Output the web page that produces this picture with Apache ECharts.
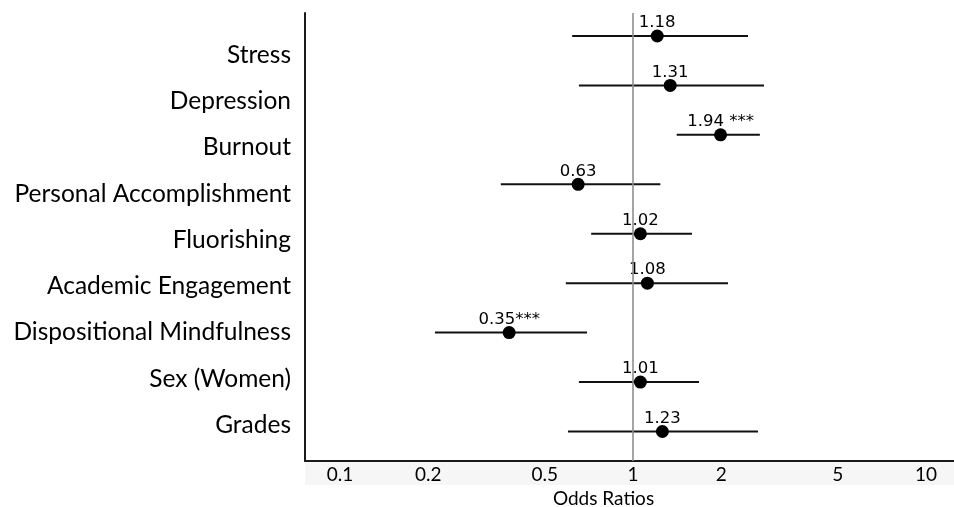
<!DOCTYPE html>
<html>
<head>
<meta charset="utf-8">
<script src="https://cdn.jsdelivr.net/npm/echarts@6/dist/echarts.min.js"></script>
<style>
html,body{margin:0;padding:0;background:#fff;}
#chart{width:954px;height:507px;}
</style>
</head>
<body>
<div id="chart"></div>
<script>
const categories = ['Stress','Depression','Burnout','Personal Accomplishment','Fluorishing','Academic Engagement','Dispositional Mindfulness','Sex (Women)','Grades'];
const oddsRatio = [1.21, 1.34, 1.99, 0.65, 1.06, 1.12, 0.378, 1.06, 1.26];
const ciLow = [0.62, 0.654, 1.41, 0.354, 0.72, 0.59, 0.211, 0.654, 0.60];
const ciHigh = [2.47, 2.80, 2.71, 1.24, 1.59, 2.11, 0.697, 1.68, 2.67];
const pointLabels = ['1.18','1.31','1.94 ***','0.63','1.02','1.08','0.35***','1.01','1.23'];
const xTicks = [0.1, 0.2, 0.5, 1, 2, 5, 10];
const refValue = 1;

const chart = echarts.init(document.getElementById('chart'), null, {renderer:'canvas'});
const barData = categories.map((c,i)=>[i, ciLow[i], ciHigh[i]]);
const pointData = categories.map((c,i)=>[oddsRatio[i], i]);
const labelFont = 'Lato';
const option = {
  animation:false,
  backgroundColor:'#ffffff',
  graphic:[
    {type:'rect', left:305, top:462, shape:{width:649, height:23}, style:{fill:'#f6f6f6'}, z:-10, silent:true}
  ],
  grid:[
    {left:305, right:0, top:13, bottom:46, containLabel:false, outerBoundsMode:'none'},
    {left:305, right:0, top:32, bottom:59, containLabel:false, outerBoundsMode:'none'}
  ],
  xAxis:[
    {type:'log', gridIndex:0, logBase:10, min:0.076, max:12.46,
     axisLine:{show:true, onZero:false, lineStyle:{color:'#1a1a1a', width:2}},
     axisTick:{show:false},
     splitLine:{show:false},
     axisLabel:{customValues:xTicks, margin:4, color:'#000', fontFamily:labelFont, fontSize:19,
       formatter:v=>String(+v.toPrecision(3))},
     name:'Odds Ratios', nameLocation:'middle', nameGap:27,
     nameTextStyle:{color:'#000', fontFamily:labelFont, fontSize:19, padding:[0,52,0,0]}
    },
    {type:'value', gridIndex:1, show:false}
  ],
  yAxis:[
    {type:'value', gridIndex:0, inverse:true, min:-0.4652, max:8.597,
     axisLine:{show:true, onZero:false, lineStyle:{color:'#1a1a1a', width:2}},
     axisTick:{show:false}, axisLabel:{show:false}, splitLine:{show:false}},
    {type:'category', gridIndex:1, inverse:true, data:categories,
     axisLine:{show:false}, axisTick:{show:false}, splitLine:{show:false},
     axisLabel:{margin:14, color:'#000', fontFamily:labelFont, fontSize:24.5}}
  ],
  series:[
    {type:'custom', xAxisIndex:0, yAxisIndex:0, data:barData,
     encode:{x:[1,2], y:0},
     renderItem:function(params, api){
       const y = api.value(0);
       const p1 = api.coord([api.value(1), y]);
       const p2 = api.coord([api.value(2), y]);
       return {type:'line', shape:{x1:p1[0], y1:p1[1], x2:p2[0], y2:p2[1]},
               style:{stroke:'#111', lineWidth:2}};
     },
     markLine:{silent:true, symbol:['none','none'], label:{show:false},
       lineStyle:{color:'#8e8e8e', width:1.6, type:'solid', opacity:1},
       emphasis:{disabled:true},
       data:[{xAxis:refValue}]},
     z:2
    },
    {type:'scatter', xAxisIndex:0, yAxisIndex:0, data:pointData,
     symbol:'circle', symbolSize:13, itemStyle:{color:'#000', opacity:1},
     label:{show:true, position:'top', distance:-2, color:'#000',
       fontFamily:'DejaVu Sans', fontSize:16.5,
       formatter:p=>pointLabels[p.dataIndex]},
     z:3
    }
  ]
};
chart.setOption(option);
</script>
</body>
</html>
